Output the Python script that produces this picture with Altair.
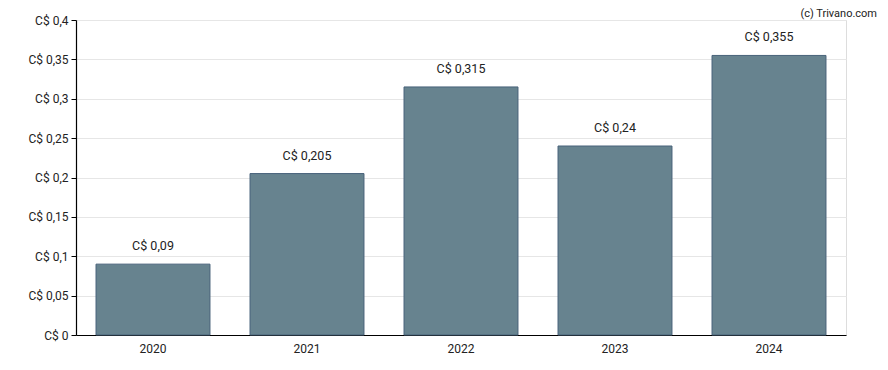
import altair as alt
import pandas as pd

years = ["2020", "2021", "2022", "2023", "2024"]
values = [0.09, 0.205, 0.315, 0.24, 0.355]
labels = ["C$ 0,09", "C$ 0,205", "C$ 0,315", "C$ 0,24", "C$ 0,355"]
y_tick_step = 0.05

df = pd.DataFrame({"year": years, "value": values, "label": labels})

FONT = "Roboto"

x = alt.X("year:N", title=None, sort=years,
          scale=alt.Scale(paddingInner=0.26, paddingOuter=0.13),
          axis=alt.Axis(labelAngle=0, ticks=False, domainColor="#000000",
                        domainWidth=1.2,
                        labelColor="#222222", labelFont=FONT, labelFontSize=12,
                        labelPadding=8, grid=False))
y = alt.Y("value:Q", title=None,
          scale=alt.Scale(domain=[0, 0.4], nice=False),
          axis=alt.Axis(tickCount=8, tickMinStep=y_tick_step,
                        tickSize=5, tickColor="#000000",
                        domainColor="#000000", domainWidth=1.2,
                        gridColor="#e6e6e6",
                        labelOverlap=False, labelFlush=False,
                        labelColor="#222222", labelFont=FONT, labelFontSize=12,
                        labelPadding=3,
                        labelExpr="'C$ ' + replace(format(datum.value, '~g'), '.', ',')"))

bars = alt.Chart(df).mark_bar(color="#67838f", stroke="#48627a",
                              strokeWidth=1).encode(x=x, y=y)

text = alt.Chart(df).mark_text(dy=-11, font=FONT, fontSize=12.5,
                               color="#222222", baseline="bottom").encode(
    x=alt.X("year:N", sort=years), y="value:Q", text="label:N")

credit = alt.Chart(pd.DataFrame({"t": ["(c) Trivano.com"]})).mark_text(
    align="right", baseline="top", font=FONT, fontSize=11, color="#222222"
).encode(x=alt.value(801), y=alt.value(-12), text="t:N")

chart = alt.layer(bars, text, credit).properties(
    width=770, height=315,
    autosize=alt.AutoSizeParams(type="none"),
    padding={"left": 68, "top": 12, "right": 34, "bottom": 30},
).configure_view(stroke=None).configure(background="#ffffff")

chart.save("out.html", embed_options={"renderer": "svg", "actions": False})
